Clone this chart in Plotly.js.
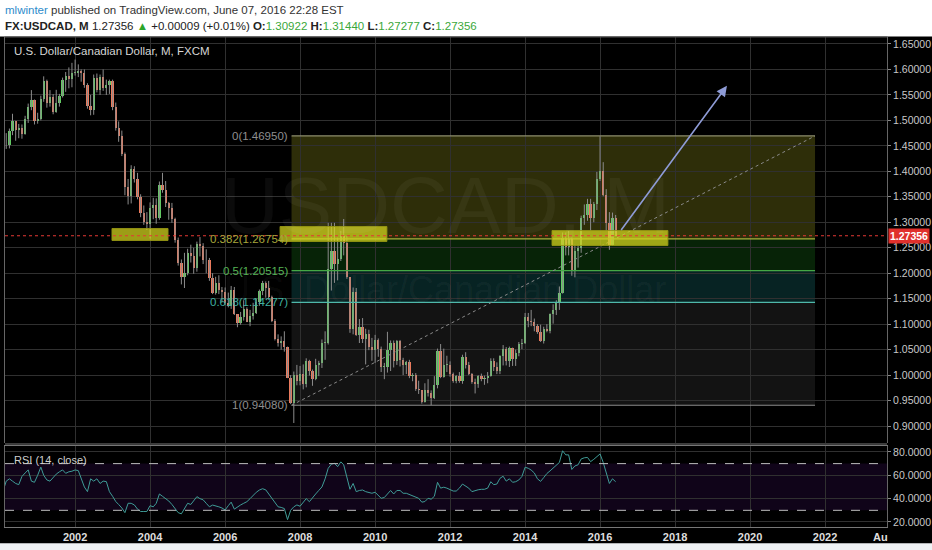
<!DOCTYPE html>
<html>
<head>
<meta charset="utf-8">
<script src="https://cdn.plot.ly/plotly-3.0.1.min.js"></script>
<style>
  html, body { margin: 0; padding: 0; background: #000; }
  #chart { width: 932px; height: 550px; }
</style>
</head>
<body>
<div id="chart"></div>
<script>
// USDCAD monthly, Jan 2000 - Jun 2016 (open of each bar = previous close)
const startYear = 2000;
const firstOpen = 1.4430;

const closes = [
  1.4475, 1.4510, 1.4520, 1.4800, 1.4985, 1.4810, 1.4860, 1.4730, 1.5035, 1.5255, 1.5400, 1.4995,
  1.5020, 1.5420, 1.5775, 1.5340, 1.5450, 1.5170, 1.5340, 1.5480, 1.5790, 1.5880, 1.5810, 1.5930,
  1.5935, 1.5975, 1.5940, 1.5700, 1.5280, 1.5200, 1.5840, 1.5600, 1.5860, 1.5630, 1.5700, 1.5770,
  1.5270, 1.4860, 1.4700, 1.4340, 1.3700, 1.3520, 1.4050, 1.3850, 1.3500, 1.3190, 1.3000, 1.2970,
  1.3280, 1.3340, 1.3090, 1.3730, 1.3630, 1.3370, 1.3290, 1.3060, 1.2650, 1.2200, 1.1930, 1.2000,
  1.2390, 1.2330, 1.2100, 1.2580, 1.2530, 1.2260, 1.2250, 1.1900, 1.1620, 1.1800, 1.1670, 1.1630,
  1.1420, 1.1360, 1.1670, 1.1190, 1.1030, 1.1150, 1.1300, 1.1050, 1.1160, 1.1220, 1.1430, 1.1650,
  1.1800, 1.1710, 1.1540, 1.1070, 1.0700, 1.0630, 1.0660, 1.0560, 0.9950, 0.9450, 1.0000, 0.9890,
  1.0030, 0.9820, 1.0270, 1.0090, 0.9930, 1.0190, 1.0240, 1.0630, 1.0640, 1.2080, 1.2440, 1.2180,
  1.2270, 1.2730, 1.2590, 1.1920, 1.0910, 1.1630, 1.0780, 1.0950, 1.0710, 1.0810, 1.0560, 1.0490,
  1.0690, 1.0520, 1.0160, 1.0160, 1.0490, 1.0630, 1.0280, 1.0660, 1.0290, 1.0200, 1.0260, 0.9980,
  1.0010, 0.9720, 0.9700, 0.9470, 0.9700, 0.9640, 0.9550, 0.9800, 1.0480, 0.9970, 1.0200, 1.0200,
  1.0030, 0.9880, 0.9980, 0.9880, 1.0350, 1.0190, 1.0030, 0.9860, 0.9830, 0.9990, 0.9930, 0.9940,
  0.9980, 1.0280, 1.0160, 1.0080, 1.0370, 1.0510, 1.0270, 1.0530, 1.0310, 1.0430, 1.0620, 1.0630,
  1.1140, 1.1070, 1.1050, 1.0960, 1.0840, 1.0670, 1.0900, 1.0870, 1.1200, 1.1270, 1.1430, 1.1610,
  1.2700, 1.2510, 1.2670, 1.2070, 1.2440, 1.2490, 1.3080, 1.3150, 1.3350, 1.3080, 1.3350, 1.3840,
  1.4010, 1.3530, 1.2990, 1.2550, 1.30922, 1.27356
];

const highs = [
  1.4665, 1.4690, 1.4750, 1.4840, 1.5130, 1.4990, 1.4930, 1.4920, 1.5090, 1.5330, 1.5595, 1.5410,
  1.5150, 1.5485, 1.5865, 1.5800, 1.5595, 1.5515, 1.5600, 1.5520, 1.5840, 1.5950, 1.6040, 1.6130,
  1.6194, 1.6100, 1.6000, 1.6000, 1.5730, 1.5500, 1.5900, 1.5920, 1.5900, 1.6000, 1.5800, 1.5800,
  1.5800, 1.5350, 1.4980, 1.4800, 1.4370, 1.3850, 1.4120, 1.4100, 1.3970, 1.3550, 1.3330, 1.3200,
  1.3390, 1.3480, 1.3470, 1.3800, 1.3970, 1.3810, 1.3400, 1.3380, 1.3090, 1.2700, 1.2270, 1.2400,
  1.2480, 1.2560, 1.2500, 1.2620, 1.2710, 1.2590, 1.2470, 1.2300, 1.2000, 1.1930, 1.1960, 1.1730,
  1.1720, 1.1620, 1.1750, 1.1730, 1.1190, 1.1240, 1.1470, 1.1330, 1.1280, 1.1420, 1.1500, 1.1680,
  1.1850, 1.1840, 1.1850, 1.1560, 1.1100, 1.0800, 1.0760, 1.0860, 1.0560, 1.0000, 1.0070, 1.0200,
  1.0180, 1.0210, 1.0330, 1.0300, 1.0110, 1.0320, 1.0280, 1.0700, 1.0860, 1.2990, 1.2990, 1.2990,
  1.2700, 1.2830, 1.3065, 1.2730, 1.1920, 1.1720, 1.1710, 1.1100, 1.1120, 1.0910, 1.0890, 1.0730,
  1.0790, 1.0720, 1.0560, 1.0240, 1.0850, 1.0680, 1.0680, 1.0690, 1.0690, 1.0340, 1.0280, 1.0300,
  1.0040, 1.0040, 0.9890, 0.9700, 0.9840, 0.9920, 0.9700, 0.9980, 1.0520, 1.0610, 1.0520, 1.0380,
  1.0270, 1.0050, 1.0000, 1.0060, 1.0400, 1.0450, 1.0260, 1.0040, 0.9930, 1.0000, 1.0030, 0.9990,
  1.0060, 1.0330, 1.0330, 1.0250, 1.0390, 1.0590, 1.0550, 1.0560, 1.0540, 1.0500, 1.0650, 1.0710,
  1.1220, 1.1220, 1.1280, 1.1110, 1.1000, 1.0990, 1.0950, 1.1000, 1.1210, 1.1390, 1.1470, 1.1740,
  1.2800, 1.2800, 1.2830, 1.2700, 1.2560, 1.2560, 1.3130, 1.3350, 1.3460, 1.3460, 1.3400, 1.3990,
  1.4690, 1.4180, 1.3650, 1.3200, 1.3190, 1.31440
];

const lows = [
  1.4350, 1.4350, 1.4440, 1.4450, 1.4710, 1.4600, 1.4650, 1.4640, 1.4720, 1.4950, 1.5200, 1.4920,
  1.4935, 1.5000, 1.5365, 1.5250, 1.5270, 1.5120, 1.5150, 1.5270, 1.5450, 1.5560, 1.5630, 1.5650,
  1.5880, 1.5850, 1.5760, 1.5640, 1.5230, 1.5100, 1.5110, 1.5550, 1.5500, 1.5580, 1.5500, 1.5520,
  1.5200, 1.4800, 1.4580, 1.4300, 1.3530, 1.3350, 1.3370, 1.3780, 1.3450, 1.3100, 1.2950, 1.2850,
  1.2683, 1.3060, 1.2970, 1.3050, 1.3580, 1.3300, 1.3050, 1.2990, 1.2600, 1.2150, 1.1780, 1.1710,
  1.1960, 1.2210, 1.1990, 1.2030, 1.2330, 1.2180, 1.2000, 1.1850, 1.1590, 1.1580, 1.1590, 1.1430,
  1.1380, 1.1330, 1.1300, 1.1180, 1.0940, 1.0990, 1.1070, 1.1040, 1.0960, 1.1090, 1.1200, 1.1360,
  1.1570, 1.1520, 1.1480, 1.1040, 1.0680, 1.0560, 1.0500, 1.0460, 0.9940, 0.9430, 0.9060, 0.9800,
  0.9800, 0.9720, 0.9760, 0.9990, 0.9790, 0.9900, 0.9980, 1.0140, 1.0300, 1.0600, 1.1660, 1.1810,
  1.1860, 1.2240, 1.2350, 1.1890, 1.0830, 1.0800, 1.0770, 1.0630, 1.0630, 1.0210, 1.0490, 1.0280,
  1.0240, 1.0360, 1.0060, 0.9920, 1.0050, 1.0080, 1.0150, 1.0200, 1.0170, 1.0000, 1.0020, 0.9940,
  0.9880, 0.9690, 0.9630, 0.9440, 0.9460, 0.9580, 0.9410, 0.9530, 0.9740, 0.9940, 0.9950, 1.0060,
  0.9970, 0.9850, 0.9840, 0.9850, 0.9830, 1.0130, 1.0000, 0.9830, 0.9640, 0.9750, 0.9880, 0.9810,
  0.9840, 0.9970, 1.0080, 1.0020, 1.0020, 1.0190, 1.0190, 1.0160, 1.0180, 1.0180, 1.0370, 1.0510,
  1.0610, 1.0940, 1.0960, 1.0860, 1.0810, 1.0650, 1.0620, 1.0840, 1.0820, 1.1010, 1.1180, 1.1280,
  1.1600, 1.2350, 1.2350, 1.1950, 1.1920, 1.2110, 1.2400, 1.2950, 1.3030, 1.2830, 1.3000, 1.3240,
  1.3810, 1.3510, 1.2830, 1.2460, 1.2540, 1.27277
];

// RSI(14, close)
const rsi = [
  47, 47, 55, 57, 55, 53, 52, 59, 62, 64.6, 55, 54,
  60, 67, 60, 56, 55, 58, 61, 63, 64.6, 61.7, 63, 63.5,
  64.6, 64, 58, 50, 46, 57, 55, 57, 53, 55, 54.6, 46,
  42, 37.5, 35, 32, 28, 36, 36, 34.6, 31, 29, 29, 29,
  34, 33, 36, 44, 42, 40, 38, 35, 31, 28, 27, 31,
  36, 35, 38, 41.7, 40, 39, 36, 33, 34.5, 34, 33, 32,
  30.3, 34, 37, 31, 33, 34.6, 36, 37.4, 40, 43, 45.5, 47.4,
  48.5, 47.5, 44, 40.5, 36, 33, 32.5, 31.5, 22, 30, 33, 34.6,
  33.5, 37, 40, 37.4, 41, 44, 47, 50, 57, 66, 69.5, 70.3,
  67.4, 71.5, 69, 58, 48, 53, 46, 47, 47.4, 46, 45, 44.6,
  45.5, 43, 40.3, 41, 44, 47, 44, 47, 47, 44.6, 44.6, 43.5,
  42, 41, 40.3, 37, 37.5, 40.3, 39.5, 42, 54, 49, 49.8, 49,
  47.4, 46.5, 46.5, 49, 52.5, 51, 49, 46, 47, 47.6, 48, 48,
  49, 54.5, 52, 52.5, 57.4, 59.2, 55, 57, 54, 54.5, 56, 59,
  66.9, 66, 64.5, 62, 57, 54.8, 58, 61.5, 63.8, 66, 68, 71,
  81, 77.5, 77.5, 65, 68, 69, 74, 75, 75.3, 71.7, 73.7, 76,
  78.3, 71, 62, 53, 57, 54.5
];

// fibonacci retracement drawn on the chart (levels as printed on it)
const fibRatios = [0, 0.382, 0.5, 0.618, 1];
const fibPrice = [1.46950, 1.26754, 1.20515, 1.14277, 0.94080];
const lastPrice = 1.27356;

const months = [];
for (let i = 0; i < closes.length; i++) {
  const y = startYear + Math.floor(i / 12);
  const m = (i % 12) + 1;
  months.push(y + '-' + String(m).padStart(2, '0') + '-01');
}
const opens = closes.map((c, i) => i === 0 ? firstOpen : closes[i - 1]);

const up = '#63c963', down = '#ea7a5d';
var wickX = [], wickY = [];
months.forEach((d, i) => {
  wickX.push(d, d, null);
  wickY.push(lows[i], highs[i], null);
});

var wicks = {
  x: wickX, y: wickY, type: 'scatter', mode: 'lines',
  line: {color: '#8c8c8c', width: 1}, hoverinfo: 'skip', showlegend: false
};

var bodies = {
  x: months,
  base: opens.map((o, i) => Math.min(o, closes[i])),
  y: opens.map((o, i) => Math.max(Math.abs(closes[i] - o), 0.0012)),
  type: 'bar', width: 1.9e9,
  marker: {color: opens.map((o, i) => closes[i] >= o ? up : down), line: {width: 0}},
  hoverinfo: 'skip', showlegend: false
};

var rsiLine = {
  x: months, y: rsi, yaxis: 'y2', type: 'scatter', mode: 'lines',
  line: {color: '#3f9c97', width: 1}, hoverinfo: 'skip', showlegend: false
};

// fib box, levels and labels
const fibStart = '2007-10-10', fibEnd = '2021-09-25';
const fibLineColors = ['#8e8e6c', '#a9b53e', '#45a845', '#4fb8aa', '#8a8a8a'];
const fibFills = ['rgba(135,135,25,0.34)', 'rgba(25,125,25,0.28)', 'rgba(25,125,125,0.28)', 'rgba(120,120,120,0.16)'];
const fibTextColors = ['#8f8f8f', '#a8a83c', '#55b455', '#3fb0a0', '#8f8f8f'];

var shapes = [];
// header / footer strips outside the plot
shapes.push({type: 'rect', xref: 'paper', yref: 'paper', x0: -0.01, x1: 1.06, y0: 1.001, y1: 1.09,
  fillcolor: '#ffffff', line: {width: 0}, layer: 'above'});
shapes.push({type: 'rect', xref: 'paper', yref: 'paper', x0: -0.01, x1: 1.06, y0: -0.033, y1: -0.07,
  fillcolor: '#eff2f4', line: {width: 0}, layer: 'above'});

for (let k = 0; k < fibFills.length; k++) {
  shapes.push({type: 'rect', xref: 'x', yref: 'y', x0: fibStart, x1: fibEnd,
    y0: fibPrice[k], y1: fibPrice[k + 1], fillcolor: fibFills[k], line: {width: 0}, layer: 'below'});
}
fibPrice.forEach((p, k) => {
  shapes.push({type: 'line', xref: 'x', yref: 'y', x0: fibStart, x1: fibEnd, y0: p, y1: p,
    line: {color: fibLineColors[k], width: 1.2}, layer: 'above'});
});
shapes.push({type: 'line', xref: 'x', yref: 'y', x0: fibStart, x1: fibEnd,
  y0: fibPrice[fibPrice.length - 1], y1: fibPrice[0],
  line: {color: '#8a8a8a', width: 1, dash: 'dot'}, layer: 'above'});

// highlighted zones
const zones = [
  ['2002-12-26', '2004-06-24', 1.2643, 1.2878],
  ['2007-06-20', '2010-04-26', 1.2623, 1.2917],
  ['2014-09-20', '2017-10-23', 1.2545, 1.2838]
];
zones.forEach(z => {
  shapes.push({type: 'rect', xref: 'x', yref: 'y', x0: z[0], x1: z[1], y0: z[2], y1: z[3],
    fillcolor: 'rgba(212,212,30,0.74)', line: {color: 'rgba(150,150,20,0.9)', width: 1}, layer: 'above'});
});

// RSI band and levels
shapes.push({type: 'rect', xref: 'paper', yref: 'y2', x0: 0, x1: 1, y0: 30, y1: 70,
  fillcolor: 'rgba(75,20,115,0.22)', line: {width: 0}, layer: 'below'});
[70, 30].forEach(v => {
  shapes.push({type: 'line', xref: 'paper', yref: 'y2', x0: 0, x1: 1, y0: v, y1: v,
    line: {color: '#bdbdbd', width: 1, dash: 'dash'}, layer: 'above'});
});

// pane borders
shapes.push({type: 'line', xref: 'paper', yref: 'paper', x0: 0, x1: 1, y0: 0.1694, y1: 0.1694,
  line: {color: '#777', width: 1}, layer: 'above'});
shapes.push({type: 'line', xref: 'paper', yref: 'paper', x0: 0, x1: 1, y0: 1, y1: 1,
  line: {color: '#555', width: 1}, layer: 'above'});

// last price line
shapes.push({type: 'line', xref: 'paper', yref: 'y', x0: 0, x1: 1, y0: lastPrice, y1: lastPrice,
  line: {color: '#e53935', width: 1, dash: 'dot'}, layer: 'above'});

var font = 'Liberation Sans, Arial, sans-serif';
var annotations = [
  {xref: 'paper', yref: 'paper', x: -0.002, y: 1.055, xanchor: 'left', yanchor: 'middle', showarrow: false,
   text: "<span style='color:#2e8bcb'>mlwinter</span> published on TradingView.com, June 07, 2016 22:28 EST",
   font: {family: font, size: 11.5, color: '#333'}},
  {xref: 'paper', yref: 'paper', x: -0.002, y: 1.022, xanchor: 'left', yanchor: 'middle', showarrow: false,
   text: "<b>FX:USDCAD, M</b> 1.27356 <span style='color:#2aa52a'>▲</span> +0.00009 (+0.01%) " +
         "<b>O:</b><span style='color:#3aa83a'>1.30922</span> <b>H:</b><span style='color:#3aa83a'>1.31440</span> " +
         "<b>L:</b><span style='color:#3aa83a'>1.27277</span> <b>C:</b><span style='color:#3aa83a'>1.27356</span>",
   font: {family: font, size: 11.5, color: '#222'}},
  {xref: 'paper', yref: 'paper', x: 0.008, y: 0.971, xanchor: 'left', yanchor: 'middle', showarrow: false,
   text: 'U.S. Dollar/Canadian Dollar, M, FXCM', font: {family: font, size: 11.5, color: '#d6d6d6'}},
  {xref: 'paper', yref: 'paper', x: 0.008, y: 0.137, xanchor: 'left', yanchor: 'middle', showarrow: false,
   text: 'RSI (14, close)', font: {family: font, size: 11, color: '#cfcfcf'}},
  {xref: 'paper', yref: 'paper', x: 0.499, y: 0.657, xanchor: 'center', yanchor: 'middle', showarrow: false,
   text: 'USDCAD, M', font: {family: font, size: 80, color: 'rgba(255,255,255,0.045)'}},
  {xref: 'paper', yref: 'paper', x: 0.499, y: 0.484, xanchor: 'center', yanchor: 'middle', showarrow: false,
   text: 'U.S. Dollar/Canadian Dollar', font: {family: font, size: 36, color: 'rgba(255,255,255,0.045)'}},
  {xref: 'paper', yref: 'paper', x: 0.993, y: -0.021, xanchor: 'center', yanchor: 'middle', showarrow: false,
   text: '<b>Au</b>', font: {family: font, size: 11, color: '#dddddd'}},
  {xref: 'paper', yref: 'y', x: 1, y: lastPrice, xanchor: 'left', yanchor: 'middle', showarrow: false, xshift: 1,
   text: '<b>' + lastPrice.toFixed(5) + '</b>', bgcolor: '#e0302c', borderpad: 1,
   font: {family: font, size: 10.5, color: '#ffffff'}},
  {xref: 'x', yref: 'y', axref: 'x', ayref: 'y', x: '2019-05-21', y: 1.5678, ax: '2016-07-14', ay: 1.282,
   showarrow: true, text: '', arrowhead: 2, arrowsize: 1.3, arrowwidth: 1.6, arrowcolor: '#8e9bd6'}
];
fibPrice.forEach((p, k) => {
  annotations.push({xref: 'x', yref: 'y', x: fibStart, y: p, xanchor: 'right', yanchor: 'middle',
    xshift: -2, showarrow: false, text: fibRatios[k] + '(' + p.toFixed(5) + ')',
    font: {family: font, size: 11.5, color: fibTextColors[k]}});
});

var axisFont = {family: font, size: 10.5, color: '#c8c8c8'};
var layout = {
  width: 932, height: 550,
  margin: {l: 5, r: 45, t: 37, b: 23},
  paper_bgcolor: '#000', plot_bgcolor: '#000',
  showlegend: false, hovermode: false, bargap: 0,
  xaxis: {
    type: 'date', range: ['2000-02-18', '2023-08-27'], anchor: 'y2',
    tick0: '2002-01-01', dtick: 'M24', tickformat: '%Y', ticks: '',
    showgrid: true, gridcolor: '#303030', gridwidth: 1, zeroline: false,
    showline: true, linecolor: '#777', mirror: true,
    tickfont: {family: font, size: 11, color: '#dddddd', weight: 'bold'}
  },
  yaxis: {
    domain: [0.1714, 1], range: [0.8667, 1.6637], side: 'right', anchor: 'x',
    tick0: 0, dtick: 0.05, tickformat: '.5f', ticks: 'outside', ticklen: 3, tickcolor: '#888',
    showgrid: true, gridcolor: '#303030', zeroline: false,
    showline: true, linecolor: '#666', mirror: true, tickfont: axisFont
  },
  yaxis2: {
    domain: [0, 0.1653], range: [15.7, 85.1], side: 'right', anchor: 'x',
    tickvals: [20, 40, 60, 80], tickformat: '.4f', ticks: 'outside', ticklen: 3, tickcolor: '#888',
    showgrid: true, gridcolor: '#303030', zeroline: false,
    showline: true, linecolor: '#666', mirror: true, tickfont: axisFont
  },
  shapes: shapes,
  annotations: annotations
};

Plotly.newPlot('chart', [wicks, bodies, rsiLine], layout, {staticPlot: true, displayModeBar: false});
</script>
</body>
</html>
